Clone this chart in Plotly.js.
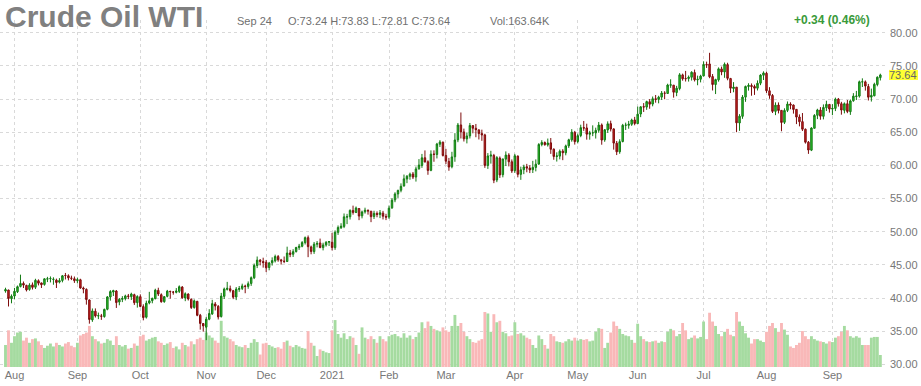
<!DOCTYPE html>
<html><head><meta charset="utf-8">
<script src="https://cdn.plot.ly/plotly-3.0.1.min.js"></script>
<style>html,body{margin:0;padding:0;background:#fff;} #chart{width:921px;height:386px;}</style>
</head><body><div id="chart"></div>
<script>
const dates = [
"2020-07-29","2020-07-30","2020-07-31",
"2020-08-03","2020-08-04","2020-08-05","2020-08-06","2020-08-07","2020-08-10","2020-08-11","2020-08-12","2020-08-13","2020-08-14","2020-08-17","2020-08-18","2020-08-19","2020-08-20","2020-08-21","2020-08-24","2020-08-25","2020-08-26","2020-08-27","2020-08-28","2020-08-31",
"2020-09-01","2020-09-02","2020-09-03","2020-09-04","2020-09-08","2020-09-09","2020-09-10","2020-09-11","2020-09-14","2020-09-15","2020-09-16","2020-09-17","2020-09-18","2020-09-21","2020-09-22","2020-09-23","2020-09-24","2020-09-25","2020-09-28","2020-09-29","2020-09-30",
"2020-10-01","2020-10-02","2020-10-05","2020-10-06","2020-10-07","2020-10-08","2020-10-09","2020-10-12","2020-10-13","2020-10-14","2020-10-15","2020-10-16","2020-10-19","2020-10-20","2020-10-21","2020-10-22","2020-10-23","2020-10-26","2020-10-27","2020-10-28","2020-10-29","2020-10-30",
"2020-11-02","2020-11-03","2020-11-04","2020-11-05","2020-11-06","2020-11-09","2020-11-10","2020-11-11","2020-11-12","2020-11-13","2020-11-16","2020-11-17","2020-11-18","2020-11-19","2020-11-20","2020-11-23","2020-11-24","2020-11-25","2020-11-27","2020-11-30",
"2020-12-01","2020-12-02","2020-12-03","2020-12-04","2020-12-07","2020-12-08","2020-12-09","2020-12-10","2020-12-11","2020-12-14","2020-12-15","2020-12-16","2020-12-17","2020-12-18","2020-12-21","2020-12-22","2020-12-23","2020-12-24","2020-12-28","2020-12-29","2020-12-30","2020-12-31",
"2021-01-04","2021-01-05","2021-01-06","2021-01-07","2021-01-08","2021-01-11","2021-01-12","2021-01-13","2021-01-14","2021-01-15","2021-01-19","2021-01-20","2021-01-21","2021-01-22","2021-01-25","2021-01-26","2021-01-27","2021-01-28","2021-01-29",
"2021-02-01","2021-02-02","2021-02-03","2021-02-04","2021-02-05","2021-02-08","2021-02-09","2021-02-10","2021-02-11","2021-02-12","2021-02-16","2021-02-17","2021-02-18","2021-02-19","2021-02-22","2021-02-23","2021-02-24","2021-02-25","2021-02-26",
"2021-03-01","2021-03-02","2021-03-03","2021-03-04","2021-03-05","2021-03-08","2021-03-09","2021-03-10","2021-03-11","2021-03-12","2021-03-15","2021-03-16","2021-03-17","2021-03-18","2021-03-19","2021-03-22","2021-03-23","2021-03-24","2021-03-25","2021-03-26","2021-03-29","2021-03-30","2021-03-31",
"2021-04-01","2021-04-05","2021-04-06","2021-04-07","2021-04-08","2021-04-09","2021-04-12","2021-04-13","2021-04-14","2021-04-15","2021-04-16","2021-04-19","2021-04-20","2021-04-21","2021-04-22","2021-04-23","2021-04-26","2021-04-27","2021-04-28","2021-04-29","2021-04-30",
"2021-05-03","2021-05-04","2021-05-05","2021-05-06","2021-05-07","2021-05-10","2021-05-11","2021-05-12","2021-05-13","2021-05-14","2021-05-17","2021-05-18","2021-05-19","2021-05-20","2021-05-21","2021-05-24","2021-05-25","2021-05-26","2021-05-27","2021-05-28",
"2021-06-01","2021-06-02","2021-06-03","2021-06-04","2021-06-07","2021-06-08","2021-06-09","2021-06-10","2021-06-11","2021-06-14","2021-06-15","2021-06-16","2021-06-17","2021-06-18","2021-06-21","2021-06-22","2021-06-23","2021-06-24","2021-06-25","2021-06-28","2021-06-29","2021-06-30",
"2021-07-01","2021-07-02","2021-07-06","2021-07-07","2021-07-08","2021-07-09","2021-07-12","2021-07-13","2021-07-14","2021-07-15","2021-07-16","2021-07-19","2021-07-20","2021-07-21","2021-07-22","2021-07-23","2021-07-26","2021-07-27","2021-07-28","2021-07-29","2021-07-30",
"2021-08-02","2021-08-03","2021-08-04","2021-08-05","2021-08-06","2021-08-09","2021-08-10","2021-08-11","2021-08-12","2021-08-13","2021-08-16","2021-08-17","2021-08-18","2021-08-19","2021-08-20","2021-08-23","2021-08-24","2021-08-25","2021-08-26","2021-08-27","2021-08-30","2021-08-31",
"2021-09-01","2021-09-02","2021-09-03","2021-09-07","2021-09-08","2021-09-09","2021-09-10","2021-09-13","2021-09-14","2021-09-15","2021-09-16","2021-09-17","2021-09-20","2021-09-21","2021-09-22","2021-09-23","2021-09-24"
];

const opens = [
41.05,41.20,39.90,
40.30,40.95,41.75,42.20,41.90,41.30,41.98,41.63,42.60,42.27,42.05,42.85,42.92,42.80,42.70,42.40,42.65,43.40,43.35,43.00,42.90,
42.60,42.75,41.50,41.30,39.70,36.70,38.00,37.30,37.28,37.20,38.30,40.15,40.90,41.05,39.40,39.80,39.90,40.30,40.20,40.50,39.30,
40.20,38.70,37.10,39.25,39.60,39.90,41.15,40.50,39.45,40.25,41.00,40.90,40.85,41.00,41.65,40.00,40.60,39.80,38.55,39.50,37.40,36.15,
35.60,36.80,37.60,39.10,38.75,37.20,40.25,41.30,41.40,41.10,40.15,41.30,41.45,41.80,41.75,42.20,43.05,44.90,45.70,45.50,
45.40,44.60,45.30,45.60,46.25,45.75,45.55,45.50,46.80,46.60,47.00,47.60,47.80,48.35,49.10,47.70,47.00,48.10,48.30,47.60,48.00,48.40,
48.40,47.60,49.90,50.60,50.80,52.20,52.25,53.20,52.90,53.50,52.40,53.00,53.20,53.10,52.30,52.75,52.60,52.80,52.30,
52.20,53.60,54.80,55.70,56.25,56.90,57.95,58.35,58.70,58.25,59.50,60.00,61.15,60.55,59.25,61.70,61.65,63.20,63.50,
61.50,60.60,59.80,61.30,63.85,66.10,65.05,64.00,64.45,66.00,65.60,65.35,64.80,64.60,60.00,61.40,61.50,57.80,61.10,58.60,60.95,61.55,60.55,
59.20,61.40,58.65,59.35,59.80,59.60,59.35,59.70,60.20,63.15,63.45,63.10,63.40,62.45,61.35,61.40,62.15,61.90,62.95,63.85,65.00,
63.60,64.50,65.70,65.65,64.70,64.90,64.90,65.30,66.10,63.85,65.35,66.30,65.50,63.35,62.05,63.60,66.05,66.05,66.20,66.85,
66.30,67.75,68.85,68.80,69.60,69.25,70.05,69.95,70.30,70.90,70.85,72.10,72.10,71.00,71.60,73.65,73.10,73.10,73.30,74.00,72.90,73.00,
73.50,75.20,75.30,73.40,72.20,72.90,74.55,74.10,75.20,73.10,71.60,71.80,66.40,67.40,70.30,71.90,72.05,71.90,71.65,72.40,73.60,
73.90,71.25,70.55,68.15,69.10,68.30,66.50,68.30,69.25,69.10,68.45,67.30,66.60,65.45,63.50,62.30,65.60,67.55,68.35,67.40,68.70,69.20,
68.50,68.60,70.00,69.30,68.30,69.30,68.10,69.75,70.40,70.45,72.60,72.60,71.90,70.30,70.50,72.20,73.24
];

const highs = [
41.55,41.25,40.54,
41.52,41.88,43.52,42.49,42.00,42.23,42.34,42.90,42.81,42.32,42.98,43.19,43.25,43.12,42.92,43.00,43.47,43.78,43.57,43.37,43.24,
43.08,42.90,41.72,41.45,39.78,38.42,38.43,37.80,37.60,38.40,40.29,41.19,41.24,41.20,40.00,40.28,40.50,40.61,40.80,40.65,40.41,
40.55,39.05,39.60,40.93,40.05,41.40,41.55,40.70,40.30,41.22,41.10,41.05,41.50,41.90,41.80,40.85,40.70,39.95,39.78,39.56,37.60,36.22,
37.15,38.31,39.73,39.39,38.93,40.77,41.57,42.43,41.87,41.22,41.65,41.81,42.16,42.00,42.50,43.25,45.20,46.26,45.88,46.08,
45.74,45.44,46.13,46.54,46.49,45.90,46.26,47.74,47.25,47.36,47.72,48.16,48.59,49.28,49.43,47.90,48.45,48.59,48.96,48.34,48.58,48.58,
49.83,50.20,50.94,51.28,52.75,52.69,53.37,53.93,53.80,53.57,53.18,53.62,53.38,53.10,53.16,53.06,53.27,53.14,52.70,
53.95,55.05,55.95,56.33,57.29,58.62,58.54,58.91,59.00,59.82,60.95,61.73,62.26,60.77,62.27,62.27,63.40,63.81,63.59,
62.49,61.13,62.05,64.86,66.40,67.98,65.55,64.97,66.40,66.09,66.25,65.45,65.39,64.77,61.86,62.20,61.74,61.40,61.35,61.01,62.11,61.84,60.90,
61.74,61.50,59.81,60.10,60.23,60.03,60.69,60.90,63.36,63.80,63.61,64.05,64.13,62.56,61.97,62.40,62.45,63.13,64.02,65.47,65.21,
64.81,66.14,66.70,66.29,65.21,66.04,65.69,66.55,66.33,65.49,66.64,66.75,65.60,63.68,63.94,66.26,66.45,66.71,67.05,67.32,
68.87,68.93,69.40,69.76,70.00,70.39,70.62,70.50,71.22,71.19,72.32,72.99,72.13,72.00,73.92,73.84,74.25,73.56,74.20,74.45,73.54,73.67,
75.70,75.65,76.98,73.78,73.07,74.78,74.90,75.52,75.48,73.20,72.56,71.81,67.73,70.61,72.03,72.39,72.36,72.18,72.82,73.75,74.18,
74.14,71.80,70.76,69.51,69.50,68.34,68.61,69.64,69.52,69.19,68.50,67.69,67.90,65.57,63.68,65.75,67.73,68.54,68.79,69.20,69.75,69.26,
69.24,70.22,70.17,69.59,69.49,69.87,69.94,70.90,71.24,72.79,73.13,72.81,72.29,71.58,72.47,73.43,73.83
];

const lows = [
40.80,38.72,39.20,
39.80,40.75,41.60,41.51,40.99,41.10,41.28,41.36,41.90,41.51,41.86,42.40,42.35,42.00,41.51,42.20,42.36,42.80,42.65,42.70,42.28,
42.21,41.39,40.71,39.00,36.13,36.40,37.05,36.81,36.70,37.03,38.15,39.60,40.30,38.50,38.90,39.38,39.63,39.83,39.70,38.95,38.55,
38.60,36.63,36.90,39.05,39.20,39.80,40.30,39.30,39.28,40.10,39.90,40.50,40.70,40.75,39.90,39.52,39.62,38.34,38.40,37.25,35.23,34.92,
33.64,36.65,37.45,38.12,36.76,37.05,39.85,41.13,40.84,39.83,39.68,40.93,41.20,40.72,41.39,41.83,42.85,44.51,44.92,44.58,
43.91,44.18,44.89,45.36,45.47,45.04,45.25,45.48,46.16,46.19,46.86,47.25,47.65,48.07,46.16,46.59,46.65,47.63,47.50,47.18,47.75,47.84,
47.18,47.26,49.52,50.41,50.54,51.14,51.84,52.57,52.81,51.74,52.01,52.73,52.57,51.44,51.92,52.18,52.05,51.85,51.75,
51.94,53.44,54.45,55.10,55.94,56.80,57.32,57.84,57.94,57.56,59.34,59.63,60.44,58.58,59.12,60.55,61.05,62.77,61.34,
60.20,59.19,59.56,60.55,63.50,64.06,63.60,63.32,64.06,64.84,64.25,63.91,63.71,59.63,59.47,60.27,57.32,57.47,58.11,58.20,59.90,59.85,58.86,
58.87,58.20,57.82,58.68,58.96,58.84,58.85,59.10,60.09,62.88,62.97,62.84,61.74,60.85,60.58,60.91,60.79,61.52,62.63,63.57,63.14,
63.32,64.25,65.21,63.88,63.88,64.41,64.05,64.92,63.12,63.56,64.90,65.12,62.38,61.56,61.75,63.47,65.34,65.53,65.96,66.05,
66.30,67.28,68.06,68.38,68.54,68.91,69.46,69.36,69.87,69.98,70.78,71.70,70.22,70.44,71.33,72.78,72.65,72.64,72.80,72.66,72.09,72.52,
73.42,74.70,73.15,71.30,70.76,72.63,73.60,73.21,72.84,70.91,71.03,65.01,65.21,67.03,69.59,71.28,70.51,70.63,71.30,72.10,72.88,
70.93,70.05,67.90,67.58,67.84,65.15,66.24,68.04,68.47,67.81,66.23,65.89,65.19,63.29,61.74,62.16,65.56,66.98,66.89,66.94,68.20,67.96,
67.58,68.19,68.87,67.65,67.85,67.88,67.62,69.60,69.86,70.22,71.82,71.28,69.79,69.63,70.42,71.93,72.81
];

const closes = [
41.27,39.92,40.27,
41.01,41.70,42.19,41.95,41.22,41.94,41.61,42.67,42.24,42.01,42.89,42.89,42.93,42.82,42.34,42.62,43.35,43.39,43.04,42.97,42.61,
42.76,41.51,41.37,39.77,36.76,38.05,37.30,37.33,37.26,38.28,40.16,40.97,41.11,39.31,39.80,39.93,40.31,40.25,40.60,39.29,40.22,
38.72,37.05,39.22,39.57,39.95,41.19,40.60,39.43,40.20,41.04,40.96,40.88,41.06,41.70,40.03,40.64,39.85,38.56,39.57,37.39,36.17,35.79,
36.81,37.66,39.15,38.79,37.14,40.29,41.36,41.45,41.12,40.13,41.34,41.43,41.82,41.74,42.15,43.06,44.91,45.71,45.53,45.34,
44.55,45.28,45.64,46.26,45.76,45.60,45.52,46.78,46.57,46.99,47.62,47.82,48.36,49.10,47.74,47.02,48.12,48.23,47.62,48.00,48.40,48.52,
47.62,49.93,50.63,50.83,52.24,52.25,53.21,52.91,53.57,52.36,52.98,53.24,53.13,52.27,52.77,52.61,52.85,52.34,52.20,
53.55,54.76,55.69,56.23,56.85,57.97,58.36,58.68,58.24,59.47,60.05,61.14,60.52,59.24,61.70,61.67,63.22,63.53,61.50,
60.64,59.75,61.28,63.83,66.09,65.05,64.01,64.44,66.02,65.61,65.39,64.80,64.60,60.00,61.42,61.55,57.76,61.18,58.56,60.97,61.56,60.55,59.16,
61.45,58.65,59.33,59.77,59.60,59.32,59.70,60.18,63.15,63.46,63.13,63.38,62.44,61.35,61.43,62.14,61.91,62.94,63.86,65.01,63.58,
64.49,65.69,65.63,64.71,64.90,64.92,65.28,66.08,63.82,65.37,66.27,65.49,63.36,62.05,63.58,66.05,66.07,66.21,66.85,66.32,
67.72,68.83,68.81,69.62,69.23,70.05,69.96,70.29,70.91,70.88,72.12,72.15,71.04,71.64,73.66,73.06,73.08,73.30,74.05,72.91,72.98,73.47,
75.23,75.16,73.37,72.20,72.94,74.56,74.10,75.25,73.13,71.65,71.81,66.42,67.42,70.30,71.91,72.07,71.91,71.65,72.39,73.62,73.95,
71.26,70.56,68.15,69.09,68.28,66.48,68.29,69.25,69.09,68.44,67.29,66.59,65.46,63.50,62.32,65.64,67.54,68.36,67.42,68.74,69.21,68.50,
68.59,69.99,69.29,68.35,69.30,68.14,69.72,70.45,70.46,72.61,72.61,71.97,70.29,70.56,72.23,73.30,73.64
];

// volume in thousands of contracts
const volumes = [
300,500,330,
420,470,480,360,400,330,380,390,350,300,260,290,320,280,330,300,280,320,340,290,270,
330,430,450,470,560,420,380,350,320,330,380,360,300,420,300,280,300,250,260,320,290,
420,440,360,380,400,410,350,330,300,320,340,260,280,240,330,300,280,350,310,380,400,370,
470,430,400,360,330,630,420,400,380,350,300,280,270,300,260,330,380,340,170,320,
330,300,280,260,270,250,340,360,290,270,300,280,260,250,490,330,290,150,240,220,200,190,
500,640,450,400,460,380,420,400,300,180,540,400,380,420,380,330,420,380,350,
420,440,450,420,400,460,400,430,380,410,470,610,530,620,560,520,500,480,540,
500,480,560,710,560,600,480,420,380,340,330,360,380,750,730,480,720,610,630,480,460,420,430,
610,450,460,430,400,380,300,260,430,380,300,250,450,420,350,340,330,350,380,360,400,
360,380,370,380,350,360,480,530,520,260,330,470,620,560,520,450,430,420,370,330,
590,420,380,350,340,350,360,330,350,340,480,520,500,420,450,600,500,380,400,430,390,410,
620,380,740,620,560,450,420,480,520,440,420,750,620,560,460,400,320,380,380,360,340,
480,560,600,530,480,600,510,440,280,260,300,330,490,420,380,420,380,360,350,340,320,350,
340,400,420,480,560,500,420,400,420,400,300,300,300,400,410,410,163.64
];

const monthTickDates = ["2020-08-03","2020-09-01","2020-10-01","2020-11-02","2020-12-01","2021-01-04","2021-02-01","2021-03-01","2021-04-01","2021-05-03","2021-06-01","2021-07-01","2021-08-02","2021-09-01"];
const monthTickLabels = ["Aug","Sep","Oct","Nov","Dec","2021","Feb","Mar","Apr","May","Jun","Jul","Aug","Sep"];

const headerTitle = "Crude Oil WTI";
const headerDate = "Sep 24";
const headerOHLC = "O:73.24 H:73.83 L:72.81 C:73.64";
const headerVol = "Vol:163.64K";
const headerChange = "+0.34 (0.46%)";
const lastPrice = 73.64;

const FONT = "Liberation Sans, Arial, sans-serif";
const W = 921, H = 386, ML = 0, MR = 34, MT = 20, MB = 19;
const PW = W - ML - MR, PH = H - MT - MB;
const px = v => v / PW;            // pixel x -> paper
const py = v => (H - MB - v) / PH; // pixel y -> paper

const volColors = closes.map((c, i) => c >= opens[i] ? '#a5dba0' : '#f9b8b8');

const traces = [
  {type: 'bar', x: dates, y: volumes, yaxis: 'y', marker: {color: volColors, line: {width: 0}}, hoverinfo: 'skip'},
  {type: 'candlestick', x: dates, open: opens, high: highs, low: lows, close: closes, yaxis: 'y2',
   increasing: {line: {color: '#137a13', width: 1}, fillcolor: '#2ecc2e'},
   decreasing: {line: {color: '#7e0c0c', width: 1}, fillcolor: '#d02424'},
   whiskerwidth: 0, hoverinfo: 'skip'}
];

const gridStyle = {showgrid: true, gridcolor: '#d9d9d9', griddash: '3px,3px', gridwidth: 1};

const layout = {
  width: W, height: H,
  margin: {l: ML, r: MR, t: MT, b: MB, pad: 0},
  paper_bgcolor: '#ffffff', plot_bgcolor: '#ffffff',
  showlegend: false, bargap: 0.04,
  font: {family: FONT, color: '#777'},
  xaxis: Object.assign({
    type: 'category', categoryorder: 'array', categoryarray: dates,
    range: [-1.836, 294.22], tickvals: monthTickDates, ticktext: monthTickLabels,
    ticks: '', showline: false, zeroline: false, rangeslider: {visible: false},
    tickfont: {family: FONT, size: 11, color: '#777'}, fixedrange: true
  }, gridStyle),
  yaxis: {range: [0, 4732], visible: false, fixedrange: true},
  yaxis2: Object.assign({
    overlaying: 'y', side: 'right', range: [29.593, 81.93], tick0: 0, dtick: 5, tickformat: '.2f',
    ticks: '', showline: false, zeroline: false, tickfont: {family: FONT, size: 11, color: '#777'},
    ticklabelstandoff: 2, fixedrange: true
  }, gridStyle),
  shapes: [
    {type: 'rect', xref: 'paper', yref: 'y2', x0: 1 + 2 / PW, x1: 1 + 31 / PW,
     y0: lastPrice - 0.76, y1: lastPrice + 0.76, fillcolor: '#ffff33', line: {width: 0}, layer: 'below'}
  ],
  annotations: [
    {xref: 'paper', yref: 'paper', x: px(3), y: py(16), xanchor: 'left', yanchor: 'middle', showarrow: false,
     text: '<b>' + headerTitle + '</b>', font: {family: FONT, size: 30, color: '#808080'}},
    {xref: 'paper', yref: 'paper', x: px(235), y: py(21), xanchor: 'left', yanchor: 'middle', showarrow: false,
     text: headerDate, font: {family: FONT, size: 11, color: '#707070'}},
    {xref: 'paper', yref: 'paper', x: px(286), y: py(21), xanchor: 'left', yanchor: 'middle', showarrow: false,
     text: headerOHLC, font: {family: FONT, size: 11, color: '#707070'}},
    {xref: 'paper', yref: 'paper', x: px(488), y: py(21), xanchor: 'left', yanchor: 'middle', showarrow: false,
     text: headerVol, font: {family: FONT, size: 11, color: '#707070'}},
    {xref: 'paper', yref: 'paper', x: px(872), y: py(20), xanchor: 'right', yanchor: 'middle', showarrow: false,
     text: '<b>' + headerChange + '</b>', font: {family: FONT, size: 12, color: '#3a9a3a'}},
    {xref: 'paper', yref: 'y2', x: 1, y: lastPrice, xanchor: 'left', yanchor: 'middle', xshift: 1, showarrow: false,
     text: lastPrice.toFixed(2), borderpad: 0, font: {family: FONT, size: 11, color: '#666'}}
  ]
};

Plotly.newPlot('chart', traces, layout, {displayModeBar: false, staticPlot: true});
</script>
</body></html>
